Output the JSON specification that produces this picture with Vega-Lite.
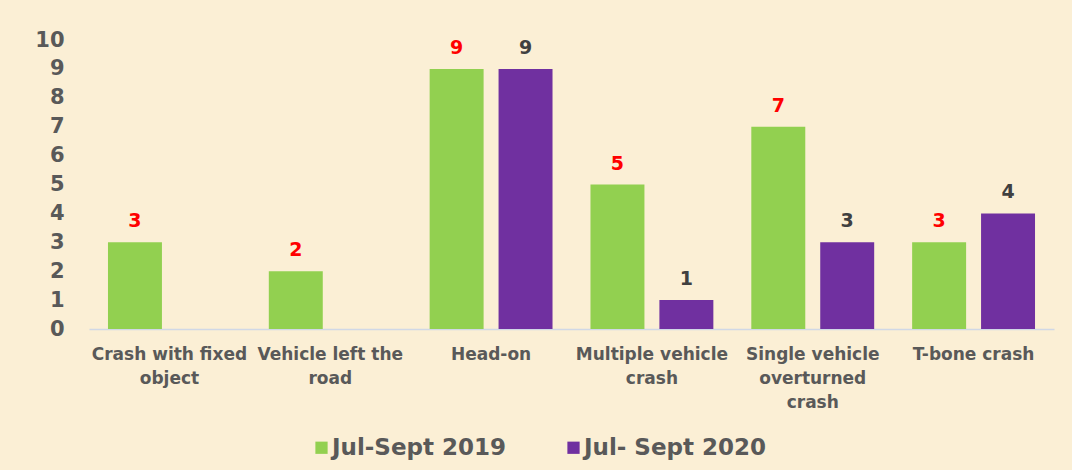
{
  "$schema": "https://vega.github.io/schema/vega-lite/v6.json",
  "width": 965,
  "height": 289,
  "padding": {"left": 34, "top": 29, "right": 20, "bottom": 10},
  "background": "#FBEFD5",
  "config": {
    "view": {"stroke": null},
    "font": "DejaVu Sans"
  },
  "data": {
    "values": [
      {"category": "Crash with fixed object", "period": "Jul-Sept 2019", "count": 3},
      {"category": "Vehicle left the road", "period": "Jul-Sept 2019", "count": 2},
      {"category": "Head-on", "period": "Jul-Sept 2019", "count": 9},
      {"category": "Head-on", "period": "Jul- Sept 2020", "count": 9},
      {"category": "Multiple vehicle crash", "period": "Jul-Sept 2019", "count": 5},
      {"category": "Multiple vehicle crash", "period": "Jul- Sept 2020", "count": 1},
      {"category": "Single vehicle overturned crash", "period": "Jul-Sept 2019", "count": 7},
      {"category": "Single vehicle overturned crash", "period": "Jul- Sept 2020", "count": 3},
      {"category": "T-bone crash", "period": "Jul-Sept 2019", "count": 3},
      {"category": "T-bone crash", "period": "Jul- Sept 2020", "count": 4}
    ]
  },
  "encoding": {
    "x": {
      "field": "category",
      "type": "nominal",
      "sort": null,
      "scale": {"paddingInner": 0.236, "paddingOuter": 0.118},
      "axis": {
        "title": null,
        "labelAngle": 0,
        "labelFont": "DejaVu Sans",
        "labelFontWeight": "bold",
        "labelFontSize": 17,
        "labelColor": "#595959",
        "labelLineHeight": 24,
        "labelPadding": 17,
        "labelLimit": 0,
        "ticks": false,
        "domainColor": "#D0D8E6",
        "domainWidth": 1.5,
        "labelExpr": "datum.value == 'Crash with fixed object' ? ['Crash with fixed', 'object'] : datum.value == 'Vehicle left the road' ? ['Vehicle left the', 'road'] : datum.value == 'Multiple vehicle crash' ? ['Multiple vehicle', 'crash'] : datum.value == 'Single vehicle overturned crash' ? ['Single vehicle', 'overturned', 'crash'] : datum.value"
      }
    },
    "xOffset": {
      "field": "period",
      "type": "nominal",
      "scale": {"domain": ["Jul-Sept 2019", "Jul- Sept 2020"], "paddingInner": 0.217}
    },
    "y": {
      "field": "count",
      "type": "quantitative",
      "scale": {"domain": [0, 10], "nice": false},
      "axis": {
        "title": null,
        "values": [0, 1, 2, 3, 4, 5, 6, 7, 8, 9, 10],
        "grid": false,
        "domain": false,
        "ticks": false,
        "labelFont": "DejaVu Sans",
        "labelFontWeight": "bold",
        "labelFontSize": 21,
        "labelColor": "#595959",
        "labelPadding": 25
      }
    }
  },
  "layer": [
    {
      "mark": {"type": "bar"},
      "encoding": {
        "color": {
          "field": "period",
          "type": "nominal",
          "scale": {"domain": ["Jul-Sept 2019", "Jul- Sept 2020"], "range": ["#92D050", "#7030A0"]},
          "legend": {
            "title": null,
            "orient": "none",
            "direction": "horizontal",
            "legendX": 221,
            "legendY": 396,
            "symbolType": "square",
            "symbolSize": 150,
            "symbolStrokeWidth": 0,
            "labelFont": "DejaVu Sans",
            "labelFontWeight": "bold",
            "labelFontSize": 23,
            "labelColor": "#595959",
            "labelOffset": -1,
            "columnPadding": 55,
            "labelLimit": 0
          }
        }
      }
    },
    {
      "mark": {"type": "text", "baseline": "alphabetic", "dy": -15, "font": "DejaVu Sans", "fontWeight": "bold", "fontSize": 19},
      "encoding": {
        "text": {"field": "count", "type": "quantitative"},
        "color": {
          "condition": {"test": "datum.period == 'Jul-Sept 2019'", "value": "#FF0000"},
          "value": "#404040"
        }
      }
    }
  ]
}
